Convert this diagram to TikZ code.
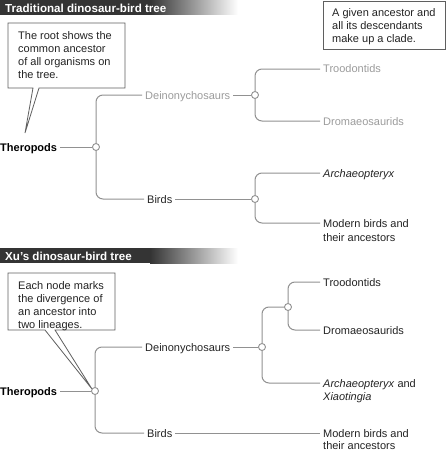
\documentclass[tikz,border=0pt]{standalone}
\usepackage{fontspec}
\setmainfont{Liberation Sans}
\usetikzlibrary{positioning,calc}
\definecolor{barfill}{RGB}{52,52,52}
\definecolor{linegray}{RGB}{145,145,145}
\definecolor{fadegray}{RGB}{155,155,155}
\definecolor{inktext}{RGB}{35,35,35}
\definecolor{boxline}{RGB}{95,95,95}

\begin{document}
\begin{tikzpicture}[
  x=1pt, y=-1pt,
  font=\fontsize{11}{13}\selectfont,
  lbl/.style={anchor=west, inner xsep=3pt, inner ysep=0pt, text height=8pt, text depth=0pt, text=inktext},
  pale/.style={lbl, text=fadegray},
  rootlbl/.style={lbl, font=\fontsize{11}{13}\selectfont\bfseries, text=black},
  junc/.style={circle, draw=linegray, fill=white, line width=0.9pt, inner sep=0pt, minimum size=7pt},
  branch/.style={draw=linegray, line width=1pt, rounded corners=7pt},
  notetxt/.style={anchor=north west, align=left, inner sep=0pt, text=inktext},
  callout/.style={draw=boxline, fill=white, line width=0.8pt, line join=miter},
  hdrtxt/.style={anchor=west, text=white, font=\fontsize{11.6}{13}\selectfont\bfseries, inner sep=0pt},
]
\useasboundingbox (0,0) rectangle (446,452);

% ============================================================
% TOP: traditional tree
% ============================================================
\fill[barfill] (0,0) rectangle (150,15);
\shade[left color=barfill, right color=white] (150,0) rectangle (238,15);
\node[hdrtxt] (hdrtrad) at (5,8) {Traditional dinosaur-bird tree};

% callouts
\coordinate (tiproot) at (25,133);
\draw[callout] (8,23) -- (125,23) -- (125,88) -- (39,88) -- (tiproot) -- (33,88) -- (8,88) -- cycle;
\node[notetxt] (rootnote) at (18,31) {The root shows the\\common ancestor\\of all organisms on\\the tree.};
\draw[callout] (323,1) rectangle (445,49);
\node[notetxt] (cladenote) at (332,8) {A given ancestor and\\all its descendants\\make up a clade.};

% nodes
\node[rootlbl] (thero1) at (-3,147) {Theropods};
\node[junc]    (r1)     at (96,147) {};
\node[pale]    (dein1)  at (142,95) {Deinonychosaurs};
\node[lbl]     (birds1) at (144,199) {Birds};
\node[junc]    (d1)     at (255,95) {};
\node[junc]    (b1)     at (255,199) {};
\node[pale]    (troo1)  at (320,69) {Troodontids};
\node[pale]    (drom1)  at (320,121) {Dromaeosaurids};
\node[lbl]     (arch1)  at (320,173) {\textit{Archaeopteryx}};
\node[lbl]     (mod1)   at (320,223) {Modern birds and};
\node[lbl]     (anc1)   at (320,237) {their ancestors};

% branches
\draw[branch] (thero1) -- (r1);
\draw[branch] (r1) |- (dein1);
\draw[branch] (r1) |- (birds1);
\draw[branch] (dein1) -- (d1);
\draw[branch] (birds1) -- (b1);
\draw[branch] (d1) |- (troo1);
\draw[branch] (d1) |- (drom1);
\draw[branch] (b1) |- (arch1);
\draw[branch] (b1) |- (mod1);

% ============================================================
% BOTTOM: Xu's tree
% ============================================================
\fill[barfill] (0,248) rectangle (150,263);
\shade[left color=barfill, right color=white] (150,248) rectangle (238,263);
\node[hdrtxt] (hdrxu) at (5,256) {Xu’s dinosaur-bird tree};

\coordinate (tipnode) at (92,389);
\draw[callout] (8,273) -- (115,273) -- (115,330) -- (55,330) -- (tipnode) -- (45,330) -- (8,330) -- cycle;
\node[notetxt] (nodenote) at (18,281) {Each node marks\\the divergence of\\an ancestor into\\two lineages.};

% nodes
\node[rootlbl] (thero2) at (-3,391) {Theropods};
\node[junc]    (r2)     at (95,391) {};
\node[lbl]     (dein2)  at (142,347) {Deinonychosaurs};
\node[lbl]     (birds2) at (144,433) {Birds};
\node[junc]    (d2)     at (262,347) {};
\node[junc]    (t2)     at (288,307) {};
\node[lbl]     (troo2)  at (320,282) {Troodontids};
\node[lbl]     (drom2)  at (320,330) {Dromaeosaurids};
\node[lbl]     (arch2)  at (320,383) {\textit{Archaeopteryx} and};
\node[lbl]     (xiao2)  at (320,396) {\textit{Xiaotingia}};
\node[lbl]     (mod2)   at (320,433) {Modern birds and};
\node[lbl]     (anc2)   at (320,445) {their ancestors};

% branches
\draw[branch] (thero2) -- (r2);
\draw[branch] (r2) |- (dein2);
\draw[branch] (r2) |- (birds2);
\draw[branch] (dein2) -- (d2);
\draw[branch] (d2) |- (t2);
\draw[branch] (d2) |- (arch2);
\draw[branch] (t2) |- (troo2);
\draw[branch] (t2) |- (drom2);
\draw[branch] (birds2) -- (mod2);

\end{tikzpicture}
\end{document}
